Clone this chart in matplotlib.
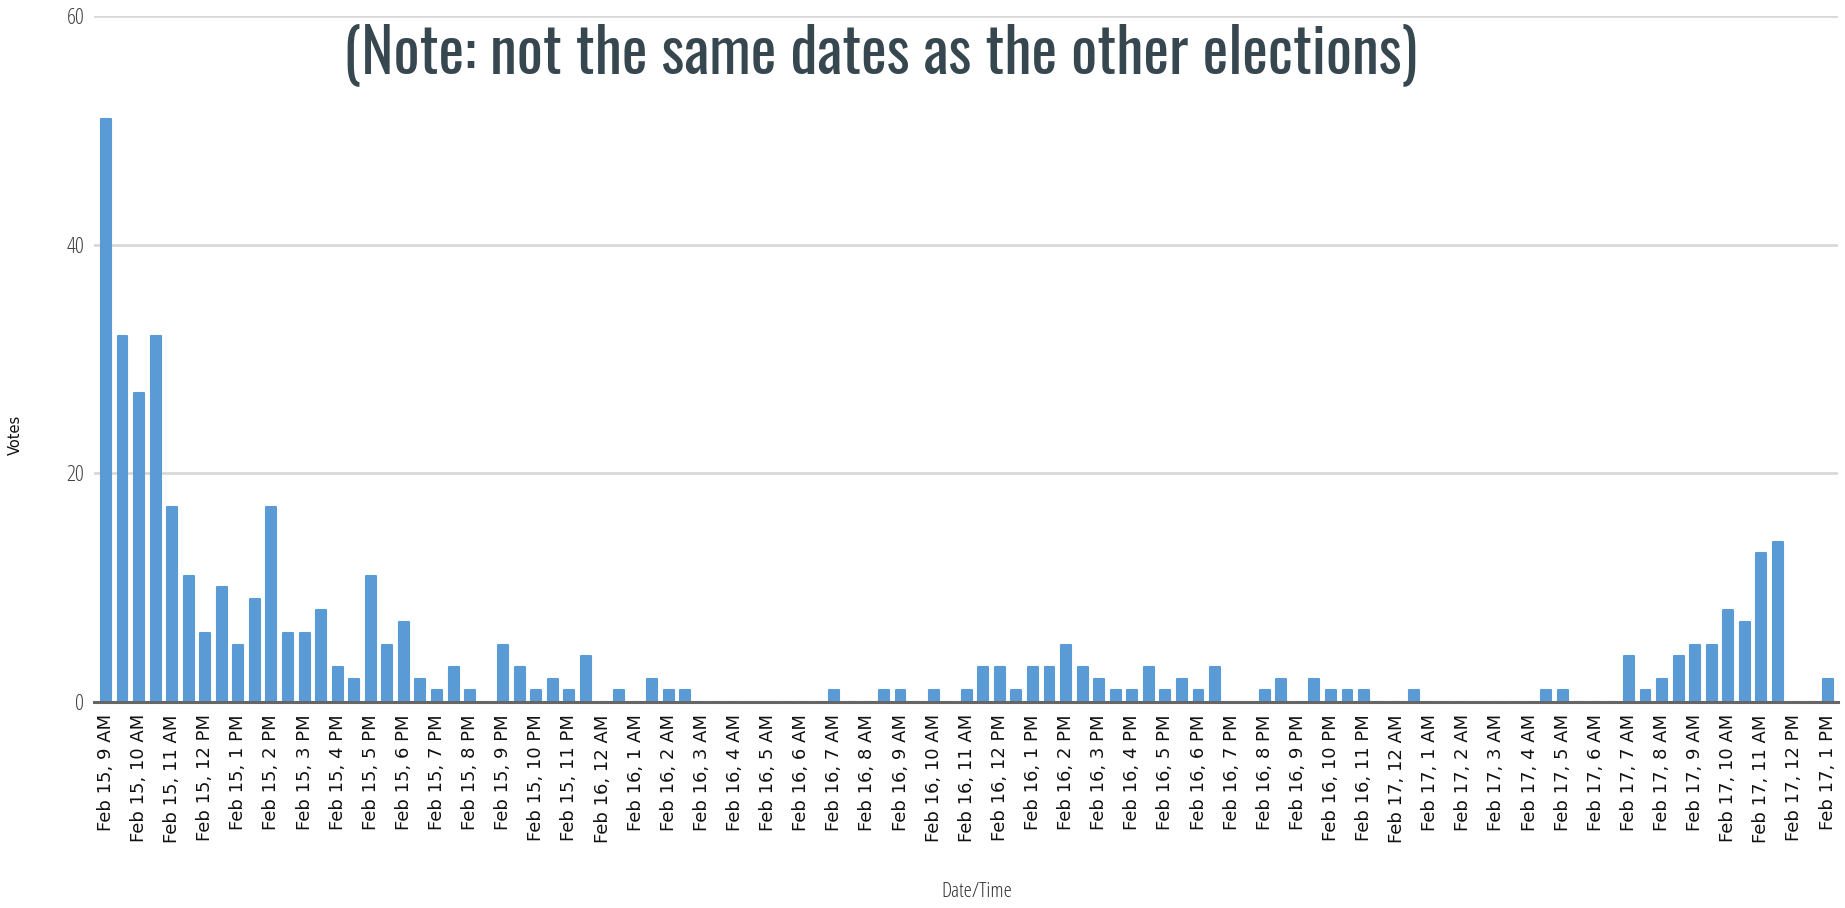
import matplotlib
matplotlib.use("Agg")
import matplotlib.pyplot as plt

# hourly labels from Feb 15, 9 AM to Feb 17, 1 PM (bars every half hour)
days = ["Feb 15"] * 15 + ["Feb 16"] * 24 + ["Feb 17"] * 14
hours = (["9 AM", "10 AM", "11 AM", "12 PM"] + [f"{h} PM" for h in range(1, 12)]
         + ["12 AM"] + [f"{h} AM" for h in range(1, 12)] + ["12 PM"] + [f"{h} PM" for h in range(1, 12)]
         + ["12 AM"] + [f"{h} AM" for h in range(1, 12)] + ["12 PM", "1 PM"])
tick_labels = [f"{d}, {h}" for d, h in zip(days, hours)]

votes = [51, 32, 27, 32, 17, 11, 6, 10, 5, 9,
         17, 6, 6, 8, 3, 2, 11, 5, 7, 2,
         1, 3, 1, 0, 5, 3, 1, 2, 1, 4,
         0, 1, 0, 2, 1, 1, 0, 0, 0, 0,
         0, 0, 0, 0, 1, 0, 0, 1, 1, 0,
         1, 0, 1, 3, 3, 1, 3, 3, 5, 3,
         2, 1, 1, 3, 1, 2, 1, 3, 0, 0,
         1, 2, 0, 2, 1, 1, 1, 0, 0, 1,
         0, 0, 0, 0, 0, 0, 0, 1, 1, 0,
         0, 0, 4, 1, 2, 4, 5, 5, 8, 7,
         13, 14, 0, 0, 2]

W, H = 1845, 908
fig = plt.figure(figsize=(W / 100, H / 100), dpi=100)
ax = fig.add_axes([94 / W, (H - 701.7) / H, (1838 - 94) / W, (701.7 - 16) / H])

x = list(range(len(votes)))
ax.bar(x, votes, width=0.6, color="#5B9BD5", edgecolor="#5B9BD5",
       linewidth=1.5, joinstyle="round", zorder=3)

ax.set_xlim(-0.72, 104.63)
ax.set_ylim(0, 60)
ax.set_yticks([0, 20, 40, 60])
ax.set_xticks(x[::2])
ax.set_xticklabels(tick_labels, rotation=90, fontsize=13, family="DejaVu Sans",
                   fontstretch="normal", color="#111111")
ax.tick_params(axis="x", length=0, pad=9)
ax.tick_params(axis="y", length=0, pad=7, labelsize=16, labelcolor="#404040")
for lbl in ax.get_yticklabels():
    lbl.set_family("Open Sans")
    lbl.set_fontstretch("condensed")
    lbl.set_fontweight(300)

ax.grid(axis="y", color="#d9d9d9", linewidth=2, zorder=0)
for s in ["top", "right", "left"]:
    ax.spines[s].set_visible(False)
ax.spines["bottom"].set_color("#666666")
ax.spines["bottom"].set_linewidth(2.2)
ax.spines["bottom"].set_zorder(4)

fig.text(880 / W, 1 - 55 / H, "(Note: not the same dates as the other elections)",
         ha="center", va="center", fontsize=44, color="#37474F", family="Oswald")
fig.text(15 / W, 1 - 435 / H, "Votes", rotation=90, ha="center", va="center",
         fontsize=10.5, color="#111111", family="DejaVu Sans", fontstretch="normal")
fig.text(977 / W, 16 / H, "Date/Time", ha="center", va="center",
         fontsize=15, color="#333333", family="Open Sans", fontstretch="condensed", fontweight=300)

fig.savefig("out.png", dpi=100)
